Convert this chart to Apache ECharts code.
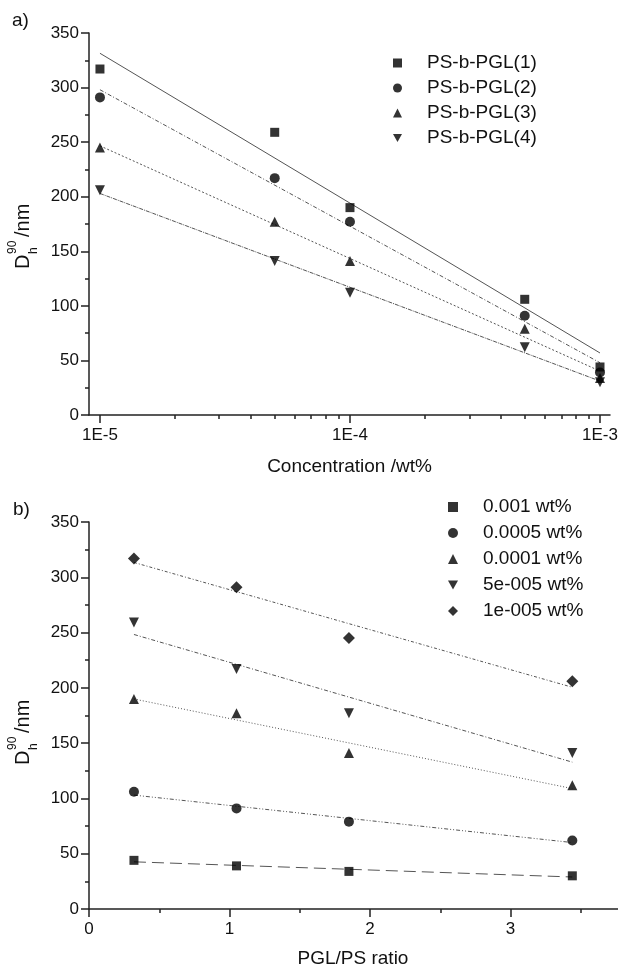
<!DOCTYPE html>
<html>
<head>
<meta charset="utf-8">
<title>Dh vs concentration / ratio</title>
<script src="https://cdn.jsdelivr.net/npm/echarts@6/dist/echarts.min.js"></script>
<style>
html, body { margin: 0; padding: 0; background: #fff; }
#main { width: 618px; height: 972px; }
</style>
</head>
<body>
<div id="main"></div>
<script>
// a) Dh90 against concentration, one series per copolymer
var concA = [1e-5, 5e-5, 1e-4, 5e-4, 1e-3];
var namesA = ['PS-b-PGL(1)', 'PS-b-PGL(2)', 'PS-b-PGL(3)', 'PS-b-PGL(4)'];
var dA1 = [317, 259, 190, 106, 44];
var dA2 = [291, 217, 177, 91, 39];
var dA3 = [245, 177, 141, 79, 34];
var dA4 = [206, 141, 112, 62, 30];

// b) Dh90 against PGL/PS ratio, one series per concentration
var ratioB = [0.32, 1.05, 1.85, 3.44];
var namesB = ['0.001 wt%', '0.0005 wt%', '0.0001 wt%', '5e-005 wt%', '1e-005 wt%'];
var dB1 = [44, 39, 34, 30];
var dB2 = [106, 91, 79, 62];
var dB3 = [190, 177, 141, 112];
var dB4 = [259, 217, 177, 141];
var dB5 = [317, 291, 245, 206];

// tick values of the log axis
var majorA = [1e-5, 1e-4, 1e-3];
var minorA = [2e-5, 3e-5, 4e-5, 5e-5, 6e-5, 7e-5, 8e-5, 9e-5,
	2e-4, 3e-4, 4e-4, 5e-4, 6e-4, 7e-4, 8e-4, 9e-4];

var FONT = '"Liberation Sans", Arial, sans-serif';
var INK = '#111';
var LINE = '#555';
var DOWN = 'path://M0,0L10,0L5,9Z';

var symA = ['rect', 'circle', 'triangle', 'triangle'];
var rotA = [0, 0, 0, 180];
var dashA = ['solid', [4, 2, 1, 2], [2, 2], [4, 1, 1, 1]];

var symB = ['rect', 'circle', 'triangle', 'triangle', 'diamond'];
var rotB = [0, 0, 0, 180, 0];
var sizeB = [9, 10, 10, 10, 12];
var dashB = [[12, 6], [4, 2, 1, 2, 1, 2], [1, 2], [4, 2, 1, 2], [3, 2, 1, 2]];

// least squares straight line
function fit(xs, ys) {
	var n = xs.length, mx = 0, my = 0, sxy = 0, sxx = 0;
	for (var i = 0; i < n; i++) { mx += xs[i] / n; my += ys[i] / n; }
	for (var j = 0; j < n; j++) {
		sxy += (xs[j] - mx) * (ys[j] - my);
		sxx += (xs[j] - mx) * (xs[j] - mx);
	}
	var b = sxy / sxx;
	return { a: my - b * mx, b: b };
}

function pairs(xs, ys) {
	return xs.map(function(x, i) { return [x, ys[i]]; });
}

function valueAxis(grid) {
	return {
		type: 'value', gridIndex: grid, min: 0, max: 350, interval: 50,
		axisLine: { show: true, lineStyle: { color: '#222', width: 1.5 } },
		axisTick: { show: true, length: 8, lineStyle: { color: '#222', width: 1.5 } },
		minorTick: { show: true, splitNumber: 2, length: 4, lineStyle: { color: '#222', width: 1.5 } },
		axisLabel: { fontSize: 17, fontFamily: FONT, color: INK, margin: 10 },
		splitLine: { show: false }
	};
}

// legend entries, down triangle given its own icon
function legendData(names, rots) {
	return names.map(function(n, i) {
		return rots[i] === 180 ? { name: n, icon: DOWN } : { name: n };
	});
}

// rotated y title  D^90_h /nm
function yTitle(x, y) {
	return {
		type: 'group', x: x, y: y, rotation: Math.PI / 2,
		children: [
			{ type: 'text', x: 0, y: -7, style: { text: 'D', font: '20px ' + FONT, fill: INK, verticalAlign: 'middle' } },
			{ type: 'text', x: 15, y: -17, style: { text: '90', font: '12px ' + FONT, fill: INK, verticalAlign: 'middle' } },
			{ type: 'text', x: 15, y: 4, style: { text: 'h', font: '12px ' + FONT, fill: INK, verticalAlign: 'middle' } },
			{ type: 'text', x: 32, y: -7, style: { text: '/nm', font: '20px ' + FONT, fill: INK, verticalAlign: 'middle' } }
		]
	};
}

var series = [];
var dataA = [dA1, dA2, dA3, dA4];
var logA = concA.map(function(c) { return Math.log10(c); });
dataA.forEach(function(d, i) {
	var f = fit(logA, d);
	var x0 = concA[0], x1 = concA[concA.length - 1];
	series.push({
		name: 'fitA' + i, type: 'line', xAxisIndex: 0, yAxisIndex: 0,
		symbol: 'none', silent: true, z: 1,
		lineStyle: { color: LINE, width: 1, type: dashA[i] },
		data: [[x0, f.a + f.b * Math.log10(x0)], [x1, f.a + f.b * Math.log10(x1)]]
	});
	series.push({
		name: namesA[i], type: 'scatter', xAxisIndex: 0, yAxisIndex: 0,
		symbol: symA[i], symbolRotate: rotA[i], symbolSize: i === 0 ? 9 : 10, z: 3,
		itemStyle: { color: '#000' },
		data: pairs(concA, d)
	});
});

var dataB = [dB1, dB2, dB3, dB4, dB5];
dataB.forEach(function(d, i) {
	var f = fit(ratioB, d);
	var x0 = ratioB[0], x1 = ratioB[ratioB.length - 1];
	series.push({
		name: 'fitB' + i, type: 'line', xAxisIndex: 2, yAxisIndex: 1,
		symbol: 'none', silent: true, z: 1,
		lineStyle: { color: LINE, width: 1, type: dashB[i] },
		data: [[x0, f.a + f.b * x0], [x1, f.a + f.b * x1]]
	});
	series.push({
		name: namesB[i], type: 'scatter', xAxisIndex: 2, yAxisIndex: 1,
		symbol: symB[i], symbolRotate: rotB[i], symbolSize: sizeB[i], z: 3,
		itemStyle: { color: '#000' },
		data: pairs(ratioB, d)
	});
});

var legendText = { fontSize: 19, fontFamily: FONT, color: INK, lineHeight: 20, padding: [0, 0, 0, 20] };

var myChart = echarts.init(document.getElementById('main'));
var option = {
	backgroundColor: '#fff',
	animation: false,
	grid: [
		{ left: 89, top: 33, width: 521, height: 382, outerBoundsMode: 'none' },
		{ left: 89, top: 522, width: 562, height: 387, outerBoundsMode: 'none' }
	],
	xAxis: [{
		type: 'log', gridIndex: 0, logBase: 10, min: 9.04e-6, max: 1.0965e-3,
		name: 'Concentration /wt%', nameLocation: 'middle', nameGap: 42,
		nameTextStyle: { fontSize: 19, fontFamily: FONT, color: INK },
		axisLine: { show: true, lineStyle: { color: '#222', width: 1.5 } },
		axisTick: { show: true, length: 8, customValues: majorA, lineStyle: { color: '#222', width: 1.5 } },
		axisLabel: {
			fontSize: 17, fontFamily: FONT, color: INK, margin: 12, customValues: majorA,
			formatter: function(v) { return '1E' + Math.round(Math.log10(v)); }
		},
		splitLine: { show: false }
	}, {
		// minor ticks 2..9 of each decade
		type: 'log', gridIndex: 0, logBase: 10, min: 9.04e-6, max: 1.0965e-3, position: 'bottom',
		axisLine: { show: false },
		axisTick: { show: true, length: 4, customValues: minorA, lineStyle: { color: '#222', width: 1.5 } },
		axisLabel: { show: false },
		splitLine: { show: false }
	}, {
		type: 'value', gridIndex: 1, min: 0, max: 4, interval: 1,
		name: 'PGL/PS ratio', nameLocation: 'middle', nameGap: 40,
		nameTextStyle: { fontSize: 19, fontFamily: FONT, color: INK, padding: [0, 34, 0, 0] },
		axisLine: { show: true, lineStyle: { color: '#222', width: 1.5 } },
		axisTick: { show: true, length: 8, lineStyle: { color: '#222', width: 1.5 } },
		minorTick: { show: true, splitNumber: 2, length: 4, lineStyle: { color: '#222', width: 1.5 } },
		axisLabel: { fontSize: 17, fontFamily: FONT, color: INK, margin: 12 },
		splitLine: { show: false }
	}],
	yAxis: [valueAxis(0), valueAxis(1)],
	legend: [{
		data: legendData(namesA, rotA), orient: 'vertical', left: 393, top: 53, padding: 0,
		itemWidth: 9, itemHeight: 9, itemGap: 5, selectedMode: false,
		textStyle: legendText
	}, {
		data: legendData(namesB, rotB), orient: 'vertical', left: 448, top: 497, padding: 0,
		itemWidth: 10, itemHeight: 10, itemGap: 6, selectedMode: false,
		textStyle: legendText
	}],
	graphic: [
		{ type: 'text', left: 12, top: 11, style: { text: 'a)', font: '19px ' + FONT, fill: INK } },
		{ type: 'text', left: 13, top: 500, style: { text: 'b)', font: '19px ' + FONT, fill: INK } },
		yTitle(30, 269),
		yTitle(30, 765)
	],
	series: series
};
myChart.setOption(option);
</script>
</body>
</html>
